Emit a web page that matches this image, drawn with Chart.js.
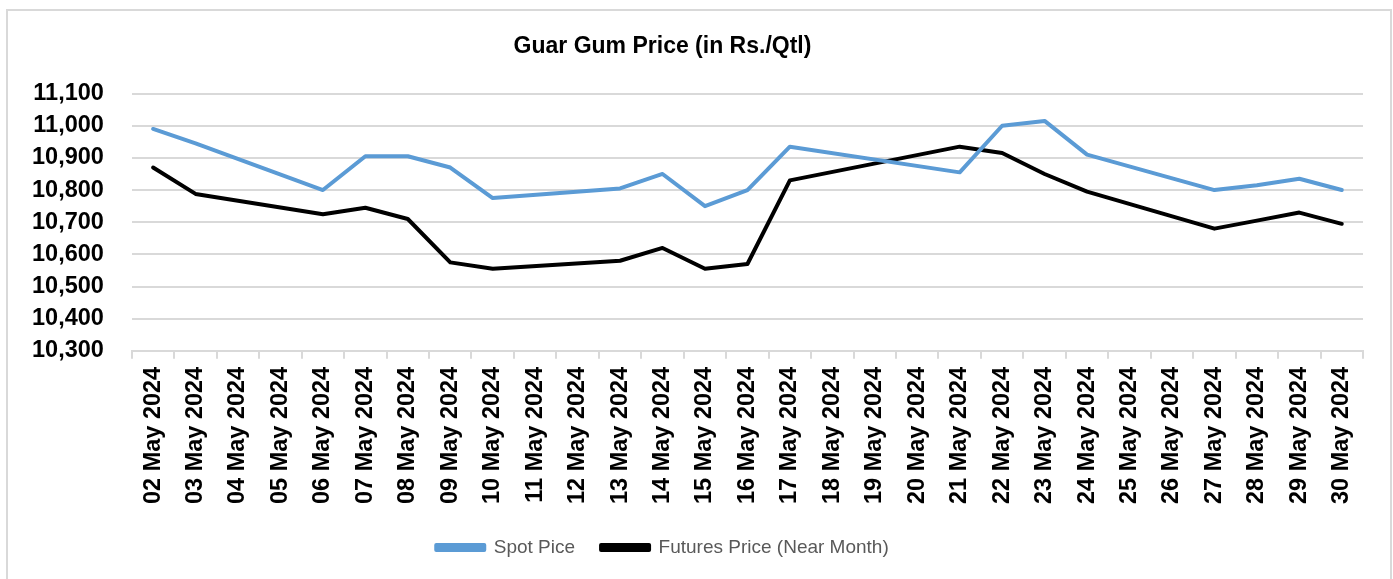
<!DOCTYPE html>
<html>
<head>
<meta charset="utf-8">
<script src="https://cdn.jsdelivr.net/npm/chart.js@4/dist/chart.umd.min.js"></script>
<style>
  html, body { margin: 0; padding: 0; background: #fff; }
  canvas { display: block; }
</style>
</head>
<body>
<canvas id="chart" width="1393" height="579"></canvas>
<script>
// trading days only; weekends / holidays left empty and the line spans them
const dates = ['02 May 2024', '03 May 2024', '04 May 2024', '05 May 2024', '06 May 2024', '07 May 2024',
    '08 May 2024', '09 May 2024', '10 May 2024', '11 May 2024', '12 May 2024', '13 May 2024', '14 May 2024',
    '15 May 2024', '16 May 2024', '17 May 2024', '18 May 2024', '19 May 2024', '20 May 2024', '21 May 2024',
    '22 May 2024', '23 May 2024', '24 May 2024', '25 May 2024', '26 May 2024', '27 May 2024', '28 May 2024',
    '29 May 2024', '30 May 2024'];

const spotPrice = [10990, 10945, null, null, 10800, 10905, 10905, 10870, 10775, null, null, 10805, 10850,
    10750, 10800, 10935, null, null, null, 10855, 11000, 11015, 10910, null, null, 10800, 10815, 10835, 10800];

const futuresPrice = [10870, 10788, null, null, 10725, 10745, 10710, 10575, 10555, null, null, 10580, 10620,
    10555, 10570, 10830, null, null, null, 10935, 10915, 10850, 10795, null, null, 10680, 10705, 10730, 10695];

const yMin = 10300;
const yMax = 11100;

// grey frame round the chart, open at the bottom like the reference crop
const framePlugin = {
    id: 'frame',
    afterLayout(chart) {
        // Excel centres title and legend a bit left of the canvas middle
        [chart.titleBlock, chart.legend].forEach(b => {
            if (b) { b.left -= 21; b.right -= 21; }
        });
    },
    beforeDraw(chart) {
        const ctx = chart.ctx;
        ctx.save();
        ctx.fillStyle = '#ffffff';
        ctx.fillRect(0, 0, chart.width, chart.height);
        ctx.strokeStyle = '#d9d9d9';
        ctx.lineWidth = 2;
        ctx.beginPath();
        ctx.moveTo(7, chart.height + 5);
        ctx.lineTo(7, 10);
        ctx.lineTo(1391, 10);
        ctx.lineTo(1391, chart.height + 5);
        ctx.stroke();
        ctx.restore();
    }
};

const tickFont = { family: '"Liberation Sans", Arial, sans-serif', size: 23.5, weight: 'bold' };

const ctx = document.getElementById('chart').getContext('2d');
new Chart(ctx, {
    type: 'line',
    data: {
        labels: dates,
        datasets: [
            {
                label: 'Spot Pice',
                data: spotPrice,
                borderColor: '#5b9bd5',
                backgroundColor: '#5b9bd5',
                borderWidth: 4
            },
            {
                label: 'Futures Price (Near Month)',
                data: futuresPrice,
                borderColor: '#000000',
                backgroundColor: '#000000',
                borderWidth: 4
            }
        ]
    },
    options: {
        responsive: false,
        animation: false,
        spanGaps: true,
        elements: {
            point: { radius: 0, hoverRadius: 0 },
            line: { tension: 0, borderJoinStyle: 'round', borderCapStyle: 'round' }
        },
        layout: {
            padding: { left: 4, right: 30, top: 0, bottom: 12 }
        },
        plugins: {
            title: {
                display: true,
                text: 'Guar Gum Price (in Rs./Qtl)',
                color: '#000000',
                font: { family: '"Liberation Sans", Arial, sans-serif', size: 23, weight: 'bold' },
                padding: { top: 33, bottom: 33 }
            },
            legend: {
                position: 'bottom',
                labels: {
                    color: '#595959',
                    font: { family: '"Liberation Sans", Arial, sans-serif', size: 19 },
                    boxWidth: 48,
                    boxHeight: 5,
                    padding: 26
                }
            },
            tooltip: { enabled: false }
        },
        scales: {
            x: {
                offset: true,
                grid: {
                    offset: true,
                    drawOnChartArea: false,
                    drawTicks: true,
                    tickLength: 8,
                    color: '#d9d9d9',
                    lineWidth: 2
                },
                border: { display: true, color: '#d9d9d9', width: 2 },
                ticks: {
                    autoSkip: false,
                    maxRotation: 90,
                    minRotation: 90,
                    padding: 8,
                    color: '#000000',
                    font: tickFont
                }
            },
            y: {
                min: yMin,
                max: yMax,
                grid: {
                    color: '#d9d9d9',
                    lineWidth: 2,
                    drawTicks: false
                },
                border: { display: false },
                ticks: {
                    stepSize: 100,
                    padding: 28,
                    color: '#000000',
                    font: tickFont,
                    callback: v => v.toLocaleString('en-US')
                }
            }
        }
    },
    plugins: [framePlugin]
});
</script>
</body>
</html>
